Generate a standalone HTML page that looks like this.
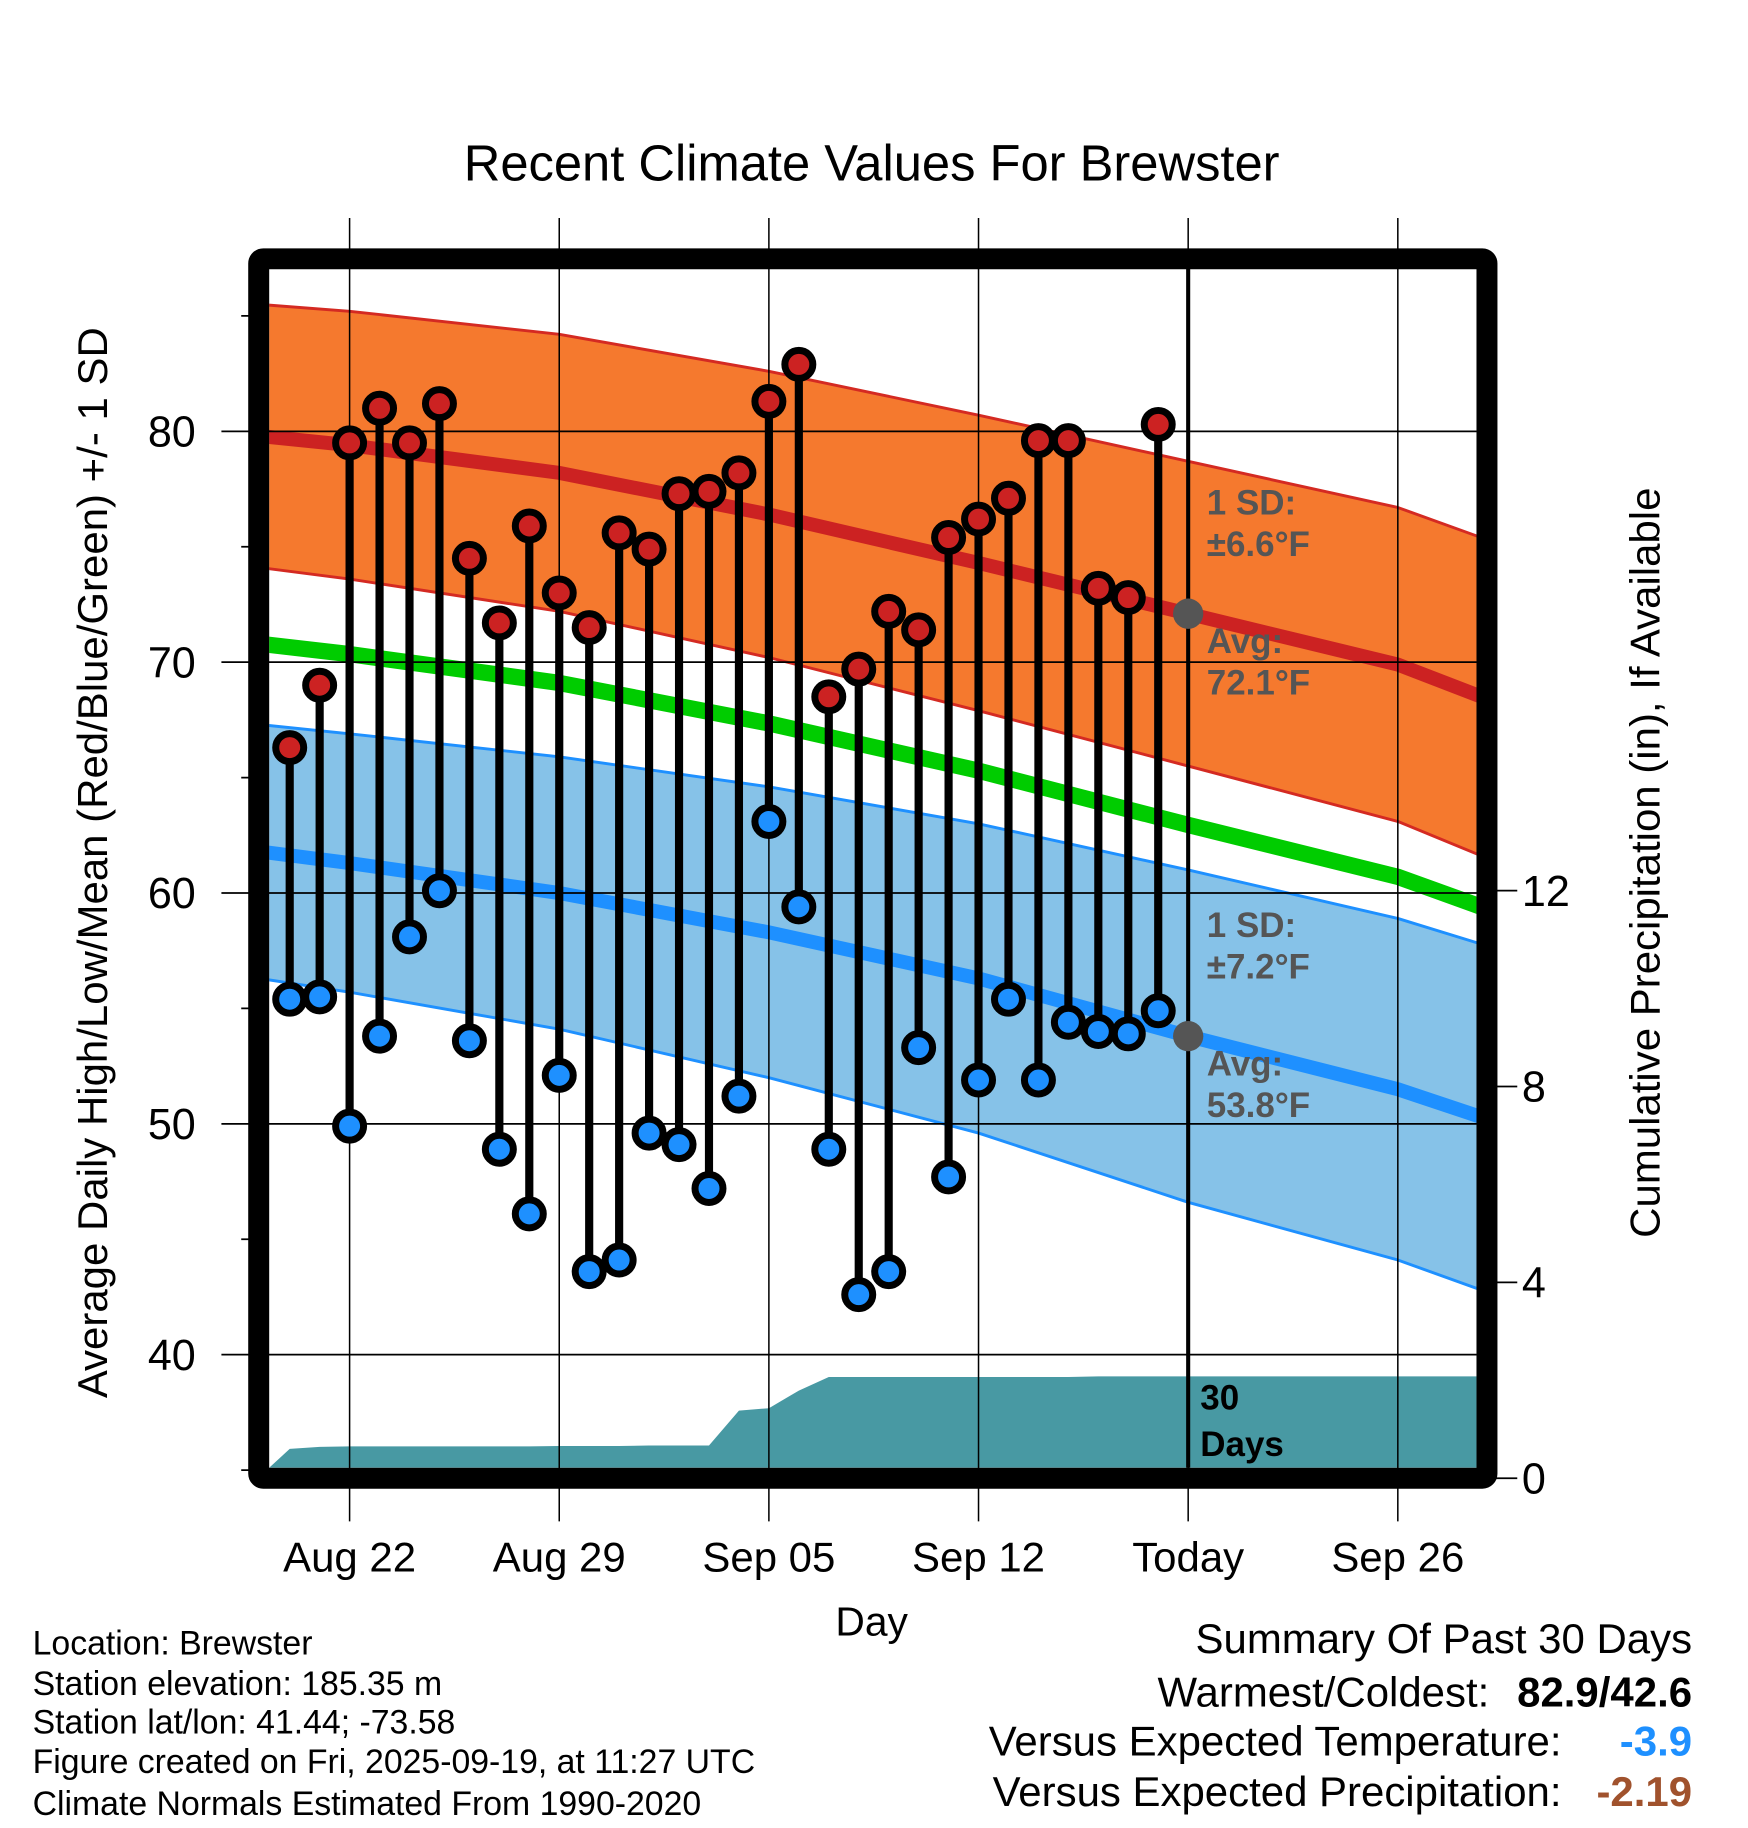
<!DOCTYPE html>
<html><head><meta charset="utf-8"><style>
html,body{margin:0;padding:0;background:#fff}
svg{display:block;font-family:"Liberation Sans",Arial,sans-serif}
</style></head><body>
<svg id="chart" width="1748" height="1828" viewBox="0 0 1500 1568" preserveAspectRatio="none" xmlns="http://www.w3.org/2000/svg">
<defs><clipPath id="plotclip"><rect x="231" y="231" width="1036" height="1028"/></clipPath></defs>
<text x="748" y="155" font-size="43.5" text-anchor="middle">Recent Climate Values For Brewster</text>
<g id="layer-bands" clip-path="url(#plotclip)"></g>
<g id="layer-grid"></g>
<g id="layer-marks"></g>
<g id="layer-text"></g>
<rect x="222" y="222" width="1054" height="1046" fill="none" stroke="#000" stroke-width="18" rx="4"/>
<text x="748" y="1403" font-size="35" text-anchor="middle">Day</text>
<text transform="translate(92,740) rotate(-90)" font-size="36" text-anchor="middle">Average Daily High/Low/Mean (Red/Blue/Green) +/- 1 SD</text>
<text transform="translate(1424,740) rotate(-90)" font-size="36" text-anchor="middle">Cumulative Precipitation (in), If Available</text>
<g font-size="29">
<text x="28" y="1419">Location: Brewster</text>
<text x="28" y="1454">Station elevation: 185.35 m</text>
<text x="28" y="1487">Station lat/lon: 41.44; -73.58</text>
<text x="28" y="1521">Figure created on Fri, 2025-09-19, at 11:27 UTC</text>
<text x="28" y="1557">Climate Normals Estimated From 1990-2020</text>
</g>
<g font-size="36" text-anchor="end">
<text x="1452" y="1418">Summary Of Past 30 Days</text>
<text x="1278" y="1464">Warmest/Coldest:</text>
<text x="1452" y="1464" font-weight="bold">82.9/42.6</text>
<text x="1340" y="1506">Versus Expected Temperature:</text>
<text x="1452" y="1506" font-weight="bold" fill="#1e90ff">-3.9</text>
<text x="1340" y="1549">Versus Expected Precipitation:</text>
<text x="1452" y="1549" font-weight="bold" fill="#a0522d">-2.19</text>
</g>
</svg>
<script>
// ---- data ----
const dayLabels = ["Aug 20","Aug 21","Aug 22","Aug 23","Aug 24","Aug 25","Aug 26","Aug 27","Aug 28","Aug 29","Aug 30","Aug 31","Sep 01","Sep 02","Sep 03","Sep 04","Sep 05","Sep 06","Sep 07","Sep 08","Sep 09","Sep 10","Sep 11","Sep 12","Sep 13","Sep 14","Sep 15","Sep 16","Sep 17","Sep 18"];
const highs = [66.3,69.0,79.5,81.0,79.5,81.2,74.5,71.7,75.9,73.0,71.5,75.6,74.9,77.3,77.4,78.2,81.3,82.9,68.5,69.7,72.2,71.4,75.4,76.2,77.1,79.6,79.6,73.2,72.8,80.3];
const lows = [55.4,55.5,49.9,53.8,58.1,60.1,53.6,48.9,46.1,52.1,43.6,44.1,49.6,49.1,47.2,51.2,63.1,59.4,48.9,42.6,43.6,53.3,47.7,51.9,55.4,51.9,54.4,54.0,53.9,54.9];
const precip = [0.60,0.64,0.65,0.65,0.65,0.65,0.65,0.65,0.65,0.66,0.66,0.66,0.67,0.67,0.67,1.38,1.43,1.79,2.07,2.07,2.07,2.07,2.07,2.07,2.07,2.07,2.07,2.08,2.08,2.08];
const normDays = [-1,2,9,16,23,30,37,40];
const hiMean = [79.8,79.4,78.2,76.4,74.3,72.1,69.9,68.4];
const hiSD = [5.7,5.8,6.0,6.2,6.4,6.6,6.8,6.9];
const loMean = [61.8,61.3,60.0,58.3,56.3,53.8,51.5,50.2];
const loSD = [5.5,5.6,5.9,6.3,6.7,7.2,7.4,7.5];
const xTickDays = [2,9,16,23,30,37];
const xTickLabels = ["Aug 22","Aug 29","Sep 05","Sep 12","Today","Sep 26"];
const yTicks = [40,50,60,70,80];
const yMinor = [35,45,55,65,75,85];
const y2Ticks = [0,4,8,12];
const todayIdx = 30;
const todayHiAvg = 72.1, todayLoAvg = 53.8, todayHiSD = 6.6, todayLoSD = 7.2;

// ---- axes ----
const X = d => 248.6 + 25.7*d;
const Y = t => 370 + (80 - t)*19.8;
const Y2 = p => 1268 - p*42;
const NS = "http://www.w3.org/2000/svg";
function mk(parent, tag, attrs){const e=document.createElementNS(NS,tag);for(const k in attrs)e.setAttribute(k,attrs[k]);parent.appendChild(e);return e;}
const bands=document.getElementById('layer-bands'), grid=document.getElementById('layer-grid'), marks=document.getElementById('layer-marks'), txt=document.getElementById('layer-text');
const pts = (arr)=>arr.map(p=>p[0].toFixed(1)+','+p[1].toFixed(1)).join(' ');

function bandPoly(mean, sd, fill, edge, nm){
  const up = normDays.map((d,i)=>[X(d),Y(mean[i]+sd[i])]);
  const dn = normDays.map((d,i)=>[X(d),Y(mean[i]-sd[i])]);
  let e = mk(bands,'polygon',{points:pts(up.concat(dn.slice().reverse())),fill:fill});
  
  
  e = mk(bands,'polyline',{points:pts(up),fill:'none',stroke:edge,'stroke-width':2.5});
  
  
  e = mk(bands,'polyline',{points:pts(dn),fill:'none',stroke:edge,'stroke-width':2.5});
  
  
}
bandPoly(hiMean,hiSD,'#f5792e','#d42a22','high');
bandPoly(loMean,loSD,'#86c2e8','#1e90ff','low');
let e;
e = mk(bands,'polyline',{points:pts(normDays.map((d,i)=>[X(d),Y((hiMean[i]+loMean[i])/2)])),fill:'none',stroke:'#00cc00','stroke-width':14});


e = mk(bands,'polyline',{points:pts(normDays.map((d,i)=>[X(d),Y(hiMean[i])])),fill:'none',stroke:'#cc2222','stroke-width':12});


e = mk(bands,'polyline',{points:pts(normDays.map((d,i)=>[X(d),Y(loMean[i])])),fill:'none',stroke:'#1e90ff','stroke-width':12});


// precip
const pp = [[231,1259]];
precip.forEach((p,i)=>pp.push([X(i),Y2(p)]));
pp.push([1267,Y2(precip[precip.length-1])]); pp.push([1267,1259]);
e = mk(bands,'polygon',{points:pts(pp),fill:'#4899a3'});



// grid
xTickDays.forEach((d,i)=>{
  e = mk(grid,'line',{x1:X(d),x2:X(d),y1:187,y2:1305,stroke:'#000','stroke-width':1.3});
  
  
  e = mk(grid,'text',{x:X(d),y:1348,'font-size':36,'text-anchor':'middle'});
  e.textContent = xTickLabels[i];
  
  
});
yTicks.forEach(t=>{
  e = mk(grid,'line',{x1:190,x2:1267,y1:Y(t),y2:Y(t),stroke:'#000','stroke-width':1.5});
  
  
  e = mk(grid,'text',{x:168,y:Y(t)+13,'font-size':37,'text-anchor':'end'});
  e.textContent = t;
  
  
});
yMinor.forEach(t=>{
  e = mk(grid,'line',{x1:207,x2:222,y1:Y(t),y2:Y(t),stroke:'#000','stroke-width':1.5});
  
  
});
y2Ticks.forEach(p=>{
  e = mk(grid,'line',{x1:1276,x2:1302,y1:Y2(p),y2:Y2(p),stroke:'#000','stroke-width':1.5});
  
  
  e = mk(grid,'text',{x:1306,y:Y2(p)+13,'font-size':37});
  e.textContent = p;
  
  
});

// today line
e = mk(marks,'line',{x1:X(todayIdx),x2:X(todayIdx),y1:223,y2:1259,stroke:'#000','stroke-width':3.5});



// stems and dots
highs.forEach((h,i)=>{
  const g = mk(marks,'g',{});
  
  
  e = mk(g,'line',{x1:X(i),x2:X(i),y1:Y(h),y2:Y(lows[i]),stroke:'#000','stroke-width':7});
  
  
  e = mk(g,'circle',{cx:X(i),cy:Y(h),r:12,fill:'#cc2222',stroke:'#000','stroke-width':6});
  
  
  e = mk(g,'circle',{cx:X(i),cy:Y(lows[i]),r:12,fill:'#1e90ff',stroke:'#000','stroke-width':6});
  
  
});
e = mk(marks,'circle',{cx:X(todayIdx),cy:Y(todayHiAvg),r:13,fill:'#555'});


e = mk(marks,'circle',{cx:X(todayIdx),cy:Y(todayLoAvg),r:13,fill:'#555'});



// annotations
function lab(s,x,y,fill,nm){
  const t = mk(txt,'text',{x:x,y:y,'font-size':30,'font-weight':'bold',fill:fill});
  t.textContent = s;
  
  
}
const ax = X(todayIdx)+16;
lab('1 SD:',ax,Y(todayHiAvg+4.3),'#555','high-sd-label');
lab('\u00B1'+todayHiSD.toFixed(1)+'\u00B0F',ax,Y(todayHiAvg+2.5),'#555','high-sd-value');
lab('Avg:',ax,Y(todayHiAvg-1.7),'#555','high-avg-label');
lab(todayHiAvg.toFixed(1)+'\u00B0F',ax,Y(todayHiAvg-3.5),'#555','high-avg-value');
lab('1 SD:',ax,Y(todayLoAvg+4.3),'#555','low-sd-label');
lab('\u00B1'+todayLoSD.toFixed(1)+'\u00B0F',ax,Y(todayLoAvg+2.5),'#555','low-sd-value');
lab('Avg:',ax,Y(todayLoAvg-1.7),'#555','low-avg-label');
lab(todayLoAvg.toFixed(1)+'\u00B0F',ax,Y(todayLoAvg-3.5),'#555','low-avg-value');
lab('30',1030,1209,'#000','precip-days-label');
lab('Days',1030,1249,'#000','precip-days-unit');
</script>
</body></html>
